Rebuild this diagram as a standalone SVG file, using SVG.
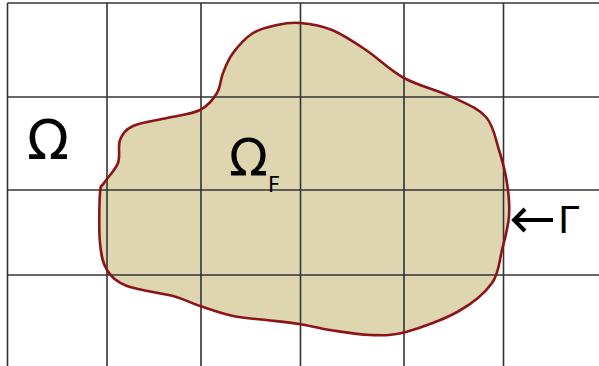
<svg xmlns="http://www.w3.org/2000/svg" width="599" height="366" viewBox="0 0 599 366">
<style>
.grid line{stroke:#333;stroke-width:1.6}
.region{fill:#ddd6b1;stroke:none}
.bound{fill:none;stroke:#8b1419;stroke-width:2.6;stroke-linejoin:round}
text{font-family:"DejaVu Sans","Liberation Sans",sans-serif;fill:#000}
.arr{fill:none;stroke:#000;stroke-width:4;stroke-linecap:butt;stroke-linejoin:miter}
</style>
<rect width="599" height="366" fill="#fff"/>
<g id="omegaF-region">
<path class="region" d="M300,23 C309.2,23.8 321,25.5 332,30 C343,34.5 354,42 366,50 C378,58 389.7,70.2 404,78 C418.3,85.8 438.3,90.5 452,97 C465.7,103.5 478.2,108.2 486,117 C493.8,125.8 495.5,139 499,150 C502.5,161 505.3,172 507,183 C508.7,194 509.8,204.8 509,216 C508.2,227.2 504.8,238.8 502,250 C499.2,261.2 499.2,272.8 492,283 C484.8,293.2 473.3,302.8 459,311 C444.7,319.2 420.8,328 406,332 C391.2,336 382.7,335.3 370,335 C357.3,334.7 341.8,331.8 330,330 C318.2,328.2 309.7,325.7 299,324 C288.3,322.3 277,321.3 266,320 C255,318.7 244,318.3 233,316 C222,313.7 210,309.3 200,306 C190,302.7 185.2,299.3 173,296 C160.8,292.7 138,290.3 127,286 C116,281.7 111.5,277.2 107,270 C102.5,262.8 101.2,255.8 100,243 C98.8,230.2 99.3,203 100,193 C100.7,183 101,188 104,183 C107,178 115.3,170.2 118,163 C120.7,155.8 117.5,146.2 120,140 C122.5,133.8 125.2,129.7 133,126 C140.8,122.3 155.8,120.7 167,118 C178.2,115.3 191.7,114.2 200,110 C208.3,105.8 213.2,99.2 217,93 C220.8,86.8 220.3,79.7 223,73 C225.7,66.3 228,59.7 233,53 C238,46.3 245.7,37.7 253,33 C260.3,28.3 269.2,26.7 277,25 C284.8,23.3 290.8,22.2 300,23 Z"/>
</g>
<g id="grid" class="grid">
<line x1="7.5" y1="3" x2="599" y2="3"/>
<line x1="7.5" y1="97" x2="599" y2="97"/>
<line x1="7.5" y1="190" x2="599" y2="190"/>
<line x1="7.5" y1="275" x2="599" y2="275"/>
<line x1="7.5" y1="3" x2="7.5" y2="366"/>
<line x1="107" y1="3" x2="107" y2="366"/>
<line x1="201" y1="3" x2="201" y2="366"/>
<line x1="300.5" y1="3" x2="300.5" y2="366"/>
<line x1="404" y1="3" x2="404" y2="366"/>
<line x1="503.5" y1="3" x2="503.5" y2="366"/>
</g>
<g id="boundary">
<path class="bound" d="M300,23 C309.2,23.8 321,25.5 332,30 C343,34.5 354,42 366,50 C378,58 389.7,70.2 404,78 C418.3,85.8 438.3,90.5 452,97 C465.7,103.5 478.2,108.2 486,117 C493.8,125.8 495.5,139 499,150 C502.5,161 505.3,172 507,183 C508.7,194 509.8,204.8 509,216 C508.2,227.2 504.8,238.8 502,250 C499.2,261.2 499.2,272.8 492,283 C484.8,293.2 473.3,302.8 459,311 C444.7,319.2 420.8,328 406,332 C391.2,336 382.7,335.3 370,335 C357.3,334.7 341.8,331.8 330,330 C318.2,328.2 309.7,325.7 299,324 C288.3,322.3 277,321.3 266,320 C255,318.7 244,318.3 233,316 C222,313.7 210,309.3 200,306 C190,302.7 185.2,299.3 173,296 C160.8,292.7 138,290.3 127,286 C116,281.7 111.5,277.2 107,270 C102.5,262.8 101.2,255.8 100,243 C98.8,230.2 99.3,203 100,193 C100.7,183 101,188 104,183 C107,178 115.3,170.2 118,163 C120.7,155.8 117.5,146.2 120,140 C122.5,133.8 125.2,129.7 133,126 C140.8,122.3 155.8,120.7 167,118 C178.2,115.3 191.7,114.2 200,110 C208.3,105.8 213.2,99.2 217,93 C220.8,86.8 220.3,79.7 223,73 C225.7,66.3 228,59.7 233,53 C238,46.3 245.7,37.7 253,33 C260.3,28.3 269.2,26.7 277,25 C284.8,23.3 290.8,22.2 300,23 Z"/>
</g>
<g id="label-omega">
<text x="27" y="159" font-size="55">Ω</text>
</g>
<g id="label-omegaF">
<text x="229" y="176" font-size="51">Ω</text>
<text x="268" y="192" font-size="21">F</text>
</g>
<g id="connectors">
<path class="arr" d="M514,220 L553,220"/>
<path class="arr" d="M525,209 L514,220 L525,231"/>
</g>
<g id="label-gamma">
<text x="558" y="233" font-size="38">Γ</text>
</g>
</svg>
